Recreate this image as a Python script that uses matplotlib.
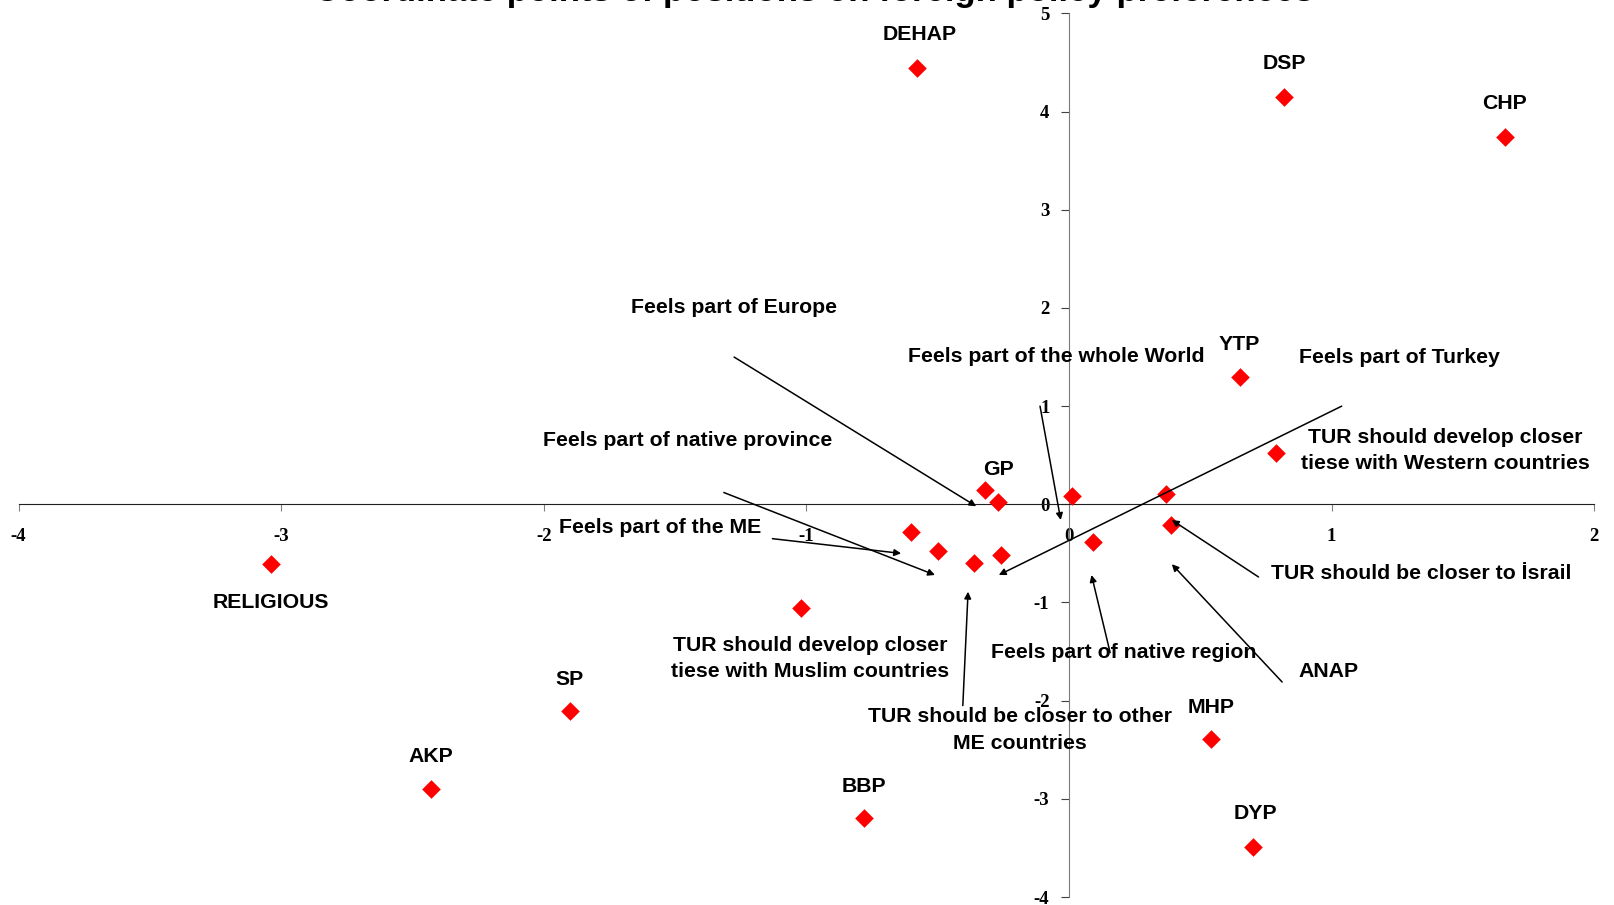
import matplotlib.pyplot as plt

plt.rcParams['axes.unicode_minus'] = False

# points (party positions and survey items)
parties = ['DEHAP', 'DSP', 'CHP', 'YTP', 'GP', 'RELIGIOUS', 'SP', 'AKP', 'BBP', 'MHP', 'DYP', 'ANAP']
party_x = [-0.58, 0.82, 1.66, 0.65, -0.32, -3.04, -1.90, -2.43, -0.78, 0.54, 0.70, 0.37]
party_y = [4.44, 4.15, 3.74, 1.30, 0.15, -0.61, -2.11, -2.90, -3.20, -2.39, -3.49, 0.11]
party_lx = [-0.57, 0.82, 1.66, 0.65, -0.27, -3.04, -1.90, -2.43, -0.78, 0.54, 0.71, 0.99]
party_ly = [4.78, 4.49, 4.08, 1.63, 0.35, -1.00, -1.78, -2.57, -2.87, -2.07, -3.15, -1.70]

items = ['Feels part of Europe', 'Feels part of the whole World', 'Feels part of Turkey',
         'TUR should develop closer\ntiese with Western countries', 'Feels part of native province',
         'Feels part of the ME', 'TUR should be closer to İsrail',
         'TUR should develop closer\ntiese with Muslim countries', 'Feels part of native region',
         'TUR should be closer to other\nME countries']
item_x = [-0.27, 0.01, -0.26, 0.79, -0.50, -0.60, 0.39, -1.02, 0.09, -0.36]
item_y = [0.02, 0.08, -0.52, 0.52, -0.48, -0.28, -0.21, -1.06, -0.38, -0.60]
item_lx = [-1.275, -0.047, 1.259, 1.435, -1.451, -1.557, 1.341, -0.984, 0.208, -0.188]
item_ly = [2.00, 1.51, 1.50, 0.55, 0.65, -0.24, -0.70, -1.57, -1.51, -2.30]

# leader arrows: start (x0, y0) -> end (x1, y1)
arrow_x0 = [-1.275, -0.110, 1.039, -1.314, -1.129, 0.722, 0.157, 0.812, -0.404]
arrow_y0 = [1.50, 1.00, 1.00, 0.12, -0.35, -0.74, -1.51, -1.81, -2.05]
arrow_x1 = [-0.353, -0.031, -0.267, -0.510, -0.639, 0.392, 0.086, 0.392, -0.384]
arrow_y1 = [-0.02, -0.16, -0.72, -0.72, -0.50, -0.16, -0.72, -0.61, -0.89]

xticks = [-4, -3, -2, -1, 0, 1, 2]
yticks = [-4, -3, -2, -1, 0, 1, 2, 3, 4, 5]

fig = plt.figure(figsize=(16.15, 9.05), dpi=100)
ax = fig.add_axes([0.01146, 0.0088, 0.9756, 0.9764])
ax.set_xlim(-4, 2)
ax.set_ylim(-4, 5)

lab = dict(family=['Liberation Sans', 'DejaVu Sans'], fontsize=15.3, fontweight='bold', color='black')

ax.scatter(party_x, party_y, marker='D', s=90, color='red', zorder=3, linewidths=0)
ax.scatter(item_x, item_y, marker='D', s=90, color='red', zorder=3, linewidths=0)

for name, x, y in zip(parties, party_lx, party_ly):
    ax.text(x, y, name, ha='center', va='center', **lab)
for name, x, y in zip(items, item_lx, item_ly):
    ax.text(x, y, name, ha='center', va='center', linespacing=1.5, **lab)

for x0, y0, x1, y1 in zip(arrow_x0, arrow_y0, arrow_x1, arrow_y1):
    ax.annotate('', xy=(x1, y1), xytext=(x0, y0),
                arrowprops=dict(arrowstyle='-|>', color='black', lw=1.1, mutation_scale=10,
                                shrinkA=0, shrinkB=0))

# axes crossing at zero
for s in ['top', 'right']:
    ax.spines[s].set_visible(False)
ax.spines['left'].set_position(('data', 0))
ax.spines['bottom'].set_position(('data', 0))
ax.spines['left'].set_color('#7a7a7a')
ax.spines['bottom'].set_color('#202020')
ax.set_xticks(xticks)
ax.set_yticks(yticks)
ax.tick_params(axis='x', direction='out', length=5, pad=12, color='#808080')
ax.tick_params(axis='y', direction='out', length=6, pad=8, color='#404040')
for t in ax.get_xticklabels() + ax.get_yticklabels():
    t.set_family('Liberation Serif')
    t.set_fontweight('bold')
    t.set_fontsize(13.5)
ax.patch.set_alpha(0)

fig.text(0.504, 1 - 1 / 905, 'Coordinate points of positions on foreign policy preferences',
         ha='center', va='baseline', fontsize=25, fontweight='bold',
         family=['Liberation Sans', 'DejaVu Sans'])

fig.savefig('out.png', dpi=100)
